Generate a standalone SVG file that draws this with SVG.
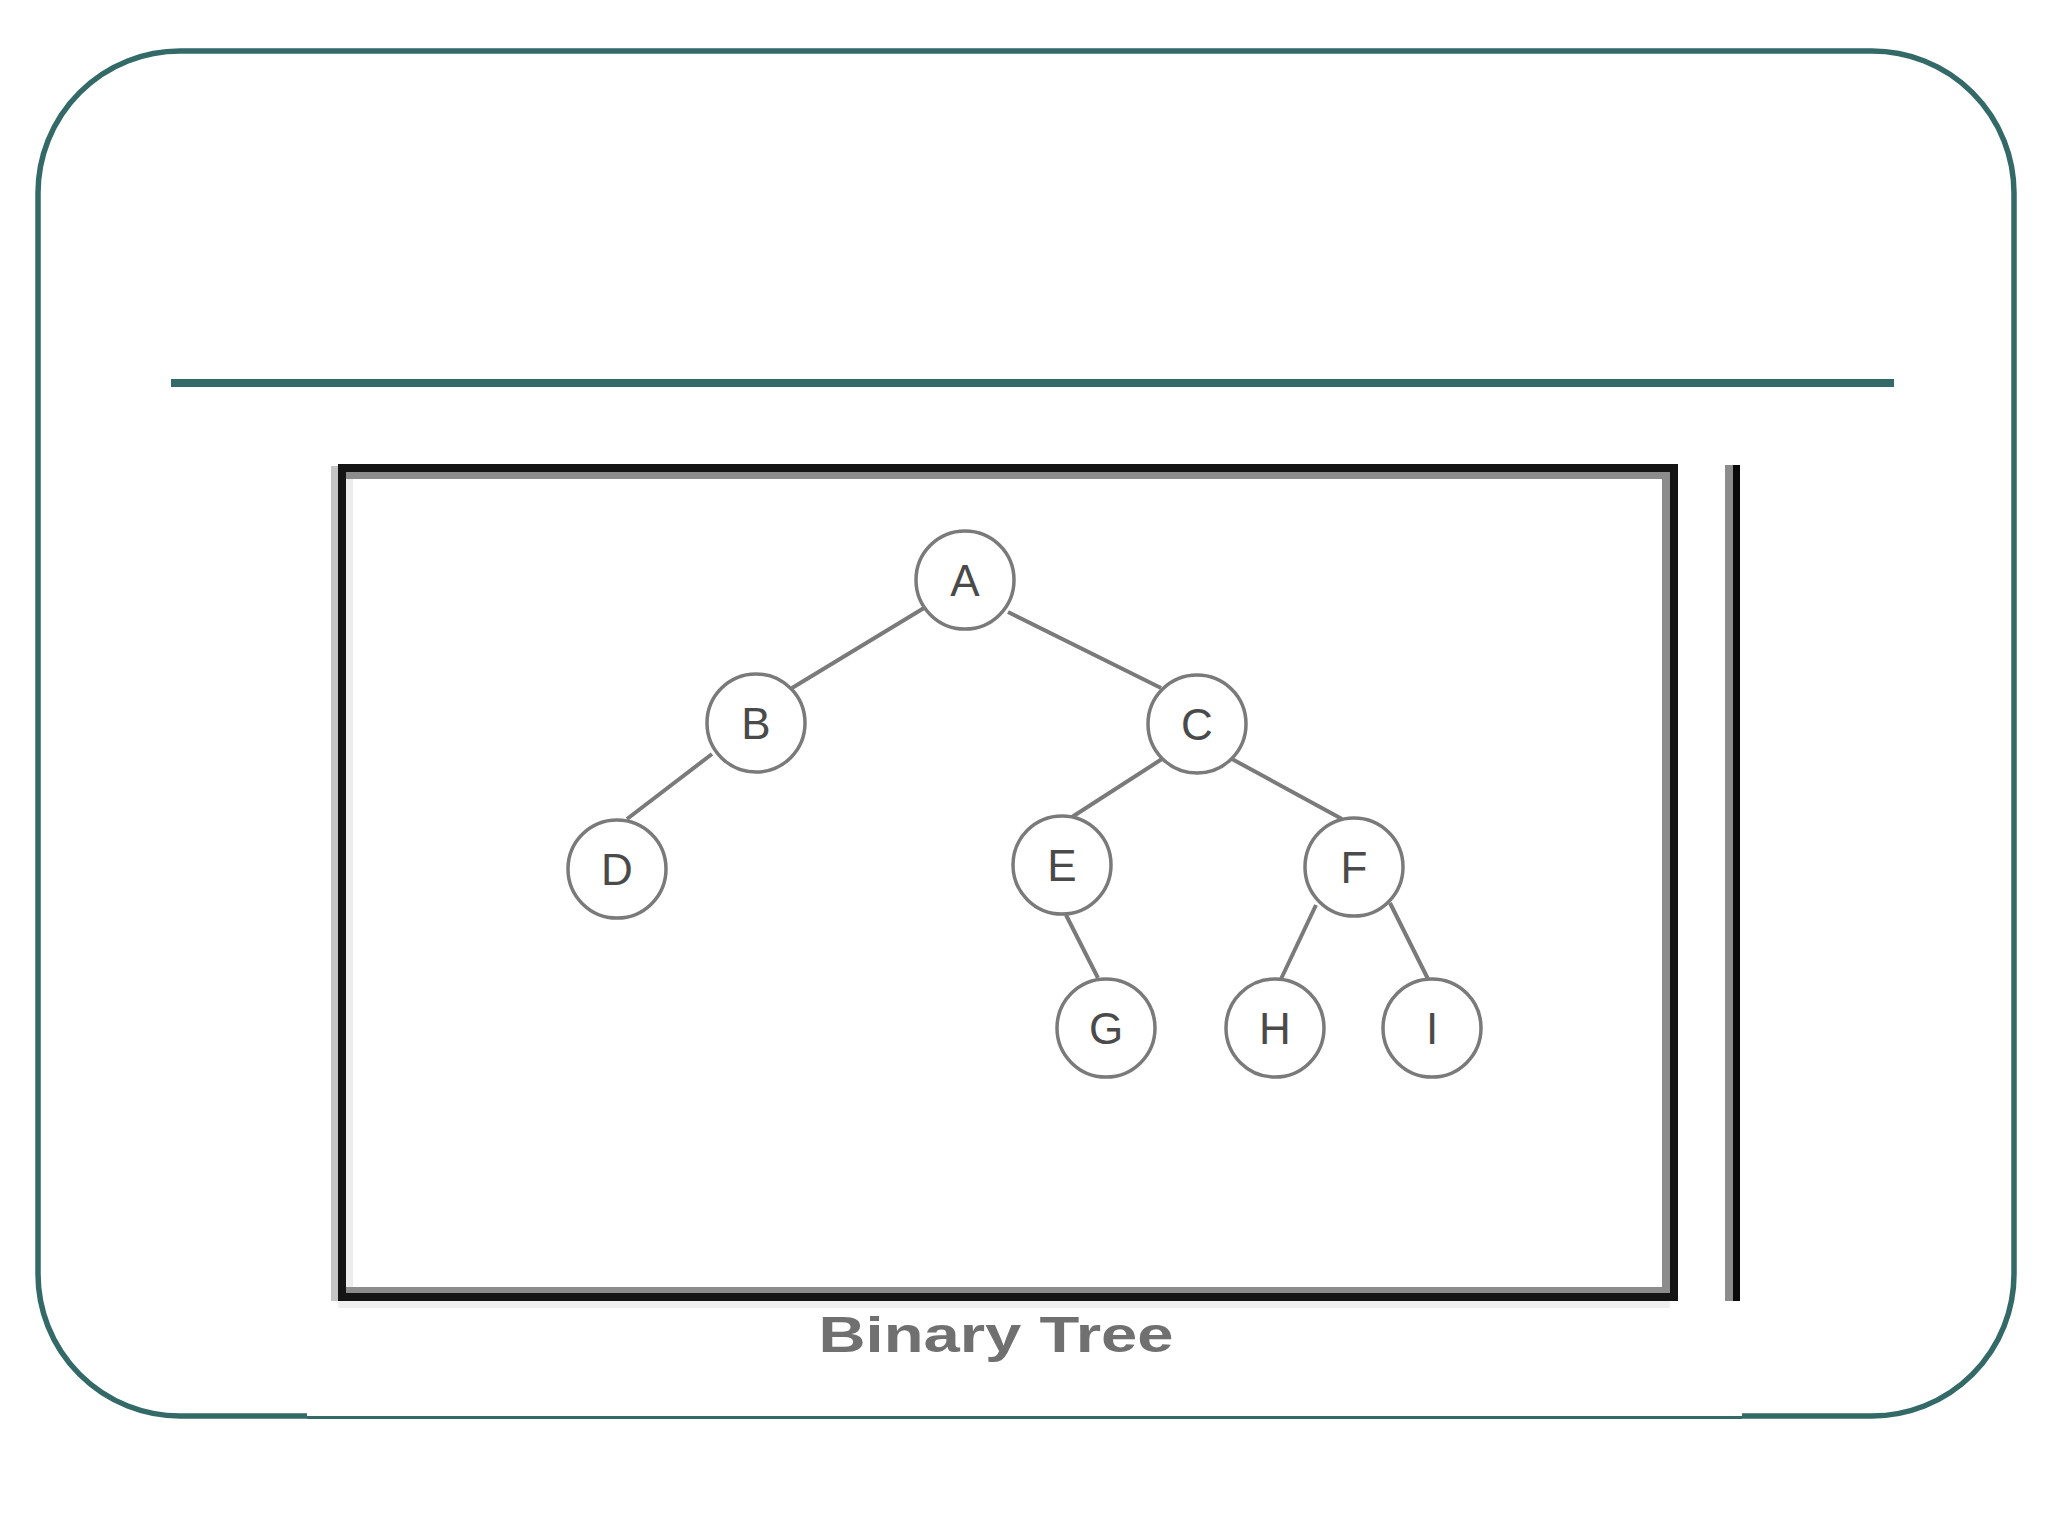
<svg xmlns="http://www.w3.org/2000/svg" width="2048" height="1536" viewBox="0 0 2048 1536">
<style>
.teal{fill:none;stroke:#336a68}
.node circle{fill:#fff;stroke:#7a7a7a;stroke-width:3.5}
.node text{font-family:"Liberation Sans",Arial,sans-serif;font-size:44px;fill:#4a4a4a;text-anchor:middle}
.edge{stroke:#7a7a7a;stroke-width:4;fill:none}
</style>
<rect width="2048" height="1536" fill="#fff"/>
<g id="frame">
<path class="teal" stroke-width="5.5" d="M307 1416 L180 1416 A142 142 0 0 1 38 1274 L38 193 A142 142 0 0 1 180 51 L1872 51 A142 142 0 0 1 2014 193 L2014 1274 A142 142 0 0 1 1872 1416 L1742 1416"/>
<line class="teal" x1="307" y1="1417.5" x2="1742" y2="1417.5" stroke-width="3"/>
<line class="teal" x1="171" y1="383" x2="1894" y2="383" stroke-width="8"/>
</g>
<g id="picture-box">
<line x1="334.5" y1="466" x2="334.5" y2="1301" stroke="#c4c4c4" stroke-width="7"/>
<line x1="349.5" y1="476" x2="349.5" y2="1290" stroke="#ececec" stroke-width="7"/>
<line x1="338" y1="1304.5" x2="1670" y2="1304.5" stroke="#efefef" stroke-width="7"/>
<line x1="346" y1="475.5" x2="1670" y2="475.5" stroke="#8c8c8c" stroke-width="7"/>
<line x1="1666" y1="472" x2="1666" y2="1293" stroke="#8c8c8c" stroke-width="8"/>
<line x1="346" y1="1290" x2="1670" y2="1290" stroke="#8c8c8c" stroke-width="6"/>
<rect x="342" y="468" width="1332" height="829" fill="none" stroke="#141414" stroke-width="8"/>
<line x1="1729" y1="465" x2="1729" y2="1301" stroke="#8c8c8c" stroke-width="8"/>
<line x1="1736.5" y1="465" x2="1736.5" y2="1301" stroke="#0a0a0a" stroke-width="7"/>
<text x="996" y="1352" font-family="'Liberation Sans',Arial,sans-serif" font-size="50" font-weight="bold" fill="#707070" text-anchor="middle" textLength="355" lengthAdjust="spacingAndGlyphs">Binary Tree</text>
</g>
<g id="connectors">
<line class="edge" x1="924" y1="608" x2="792" y2="688"/>
<line class="edge" x1="1008" y1="612" x2="1161" y2="688"/>
<line class="edge" x1="712" y1="754" x2="627" y2="819"/>
<line class="edge" x1="1162" y1="759" x2="1072" y2="817"/>
<line class="edge" x1="1232" y1="759" x2="1342" y2="819"/>
<line class="edge" x1="1066" y1="915" x2="1098" y2="978"/>
<line class="edge" x1="1316" y1="905" x2="1281" y2="979"/>
<line class="edge" x1="1390" y1="903" x2="1428" y2="979"/>
</g>
<g id="node-A" class="node"><circle cx="965" cy="580" r="49"/><text x="965" y="596">A</text></g>
<g id="node-B" class="node"><circle cx="756" cy="723" r="49"/><text x="756" y="739">B</text></g>
<g id="node-C" class="node"><circle cx="1197" cy="724" r="49"/><text x="1197" y="740">C</text></g>
<g id="node-D" class="node"><circle cx="617" cy="869" r="49"/><text x="617" y="885">D</text></g>
<g id="node-E" class="node"><circle cx="1062" cy="865" r="49"/><text x="1062" y="881">E</text></g>
<g id="node-F" class="node"><circle cx="1354" cy="867" r="49"/><text x="1354" y="883">F</text></g>
<g id="node-G" class="node"><circle cx="1106" cy="1028" r="49"/><text x="1106" y="1044">G</text></g>
<g id="node-H" class="node"><circle cx="1275" cy="1028" r="49"/><text x="1275" y="1044">H</text></g>
<g id="node-I" class="node"><circle cx="1432" cy="1028" r="49"/><text x="1432" y="1044">I</text></g>
</svg>
